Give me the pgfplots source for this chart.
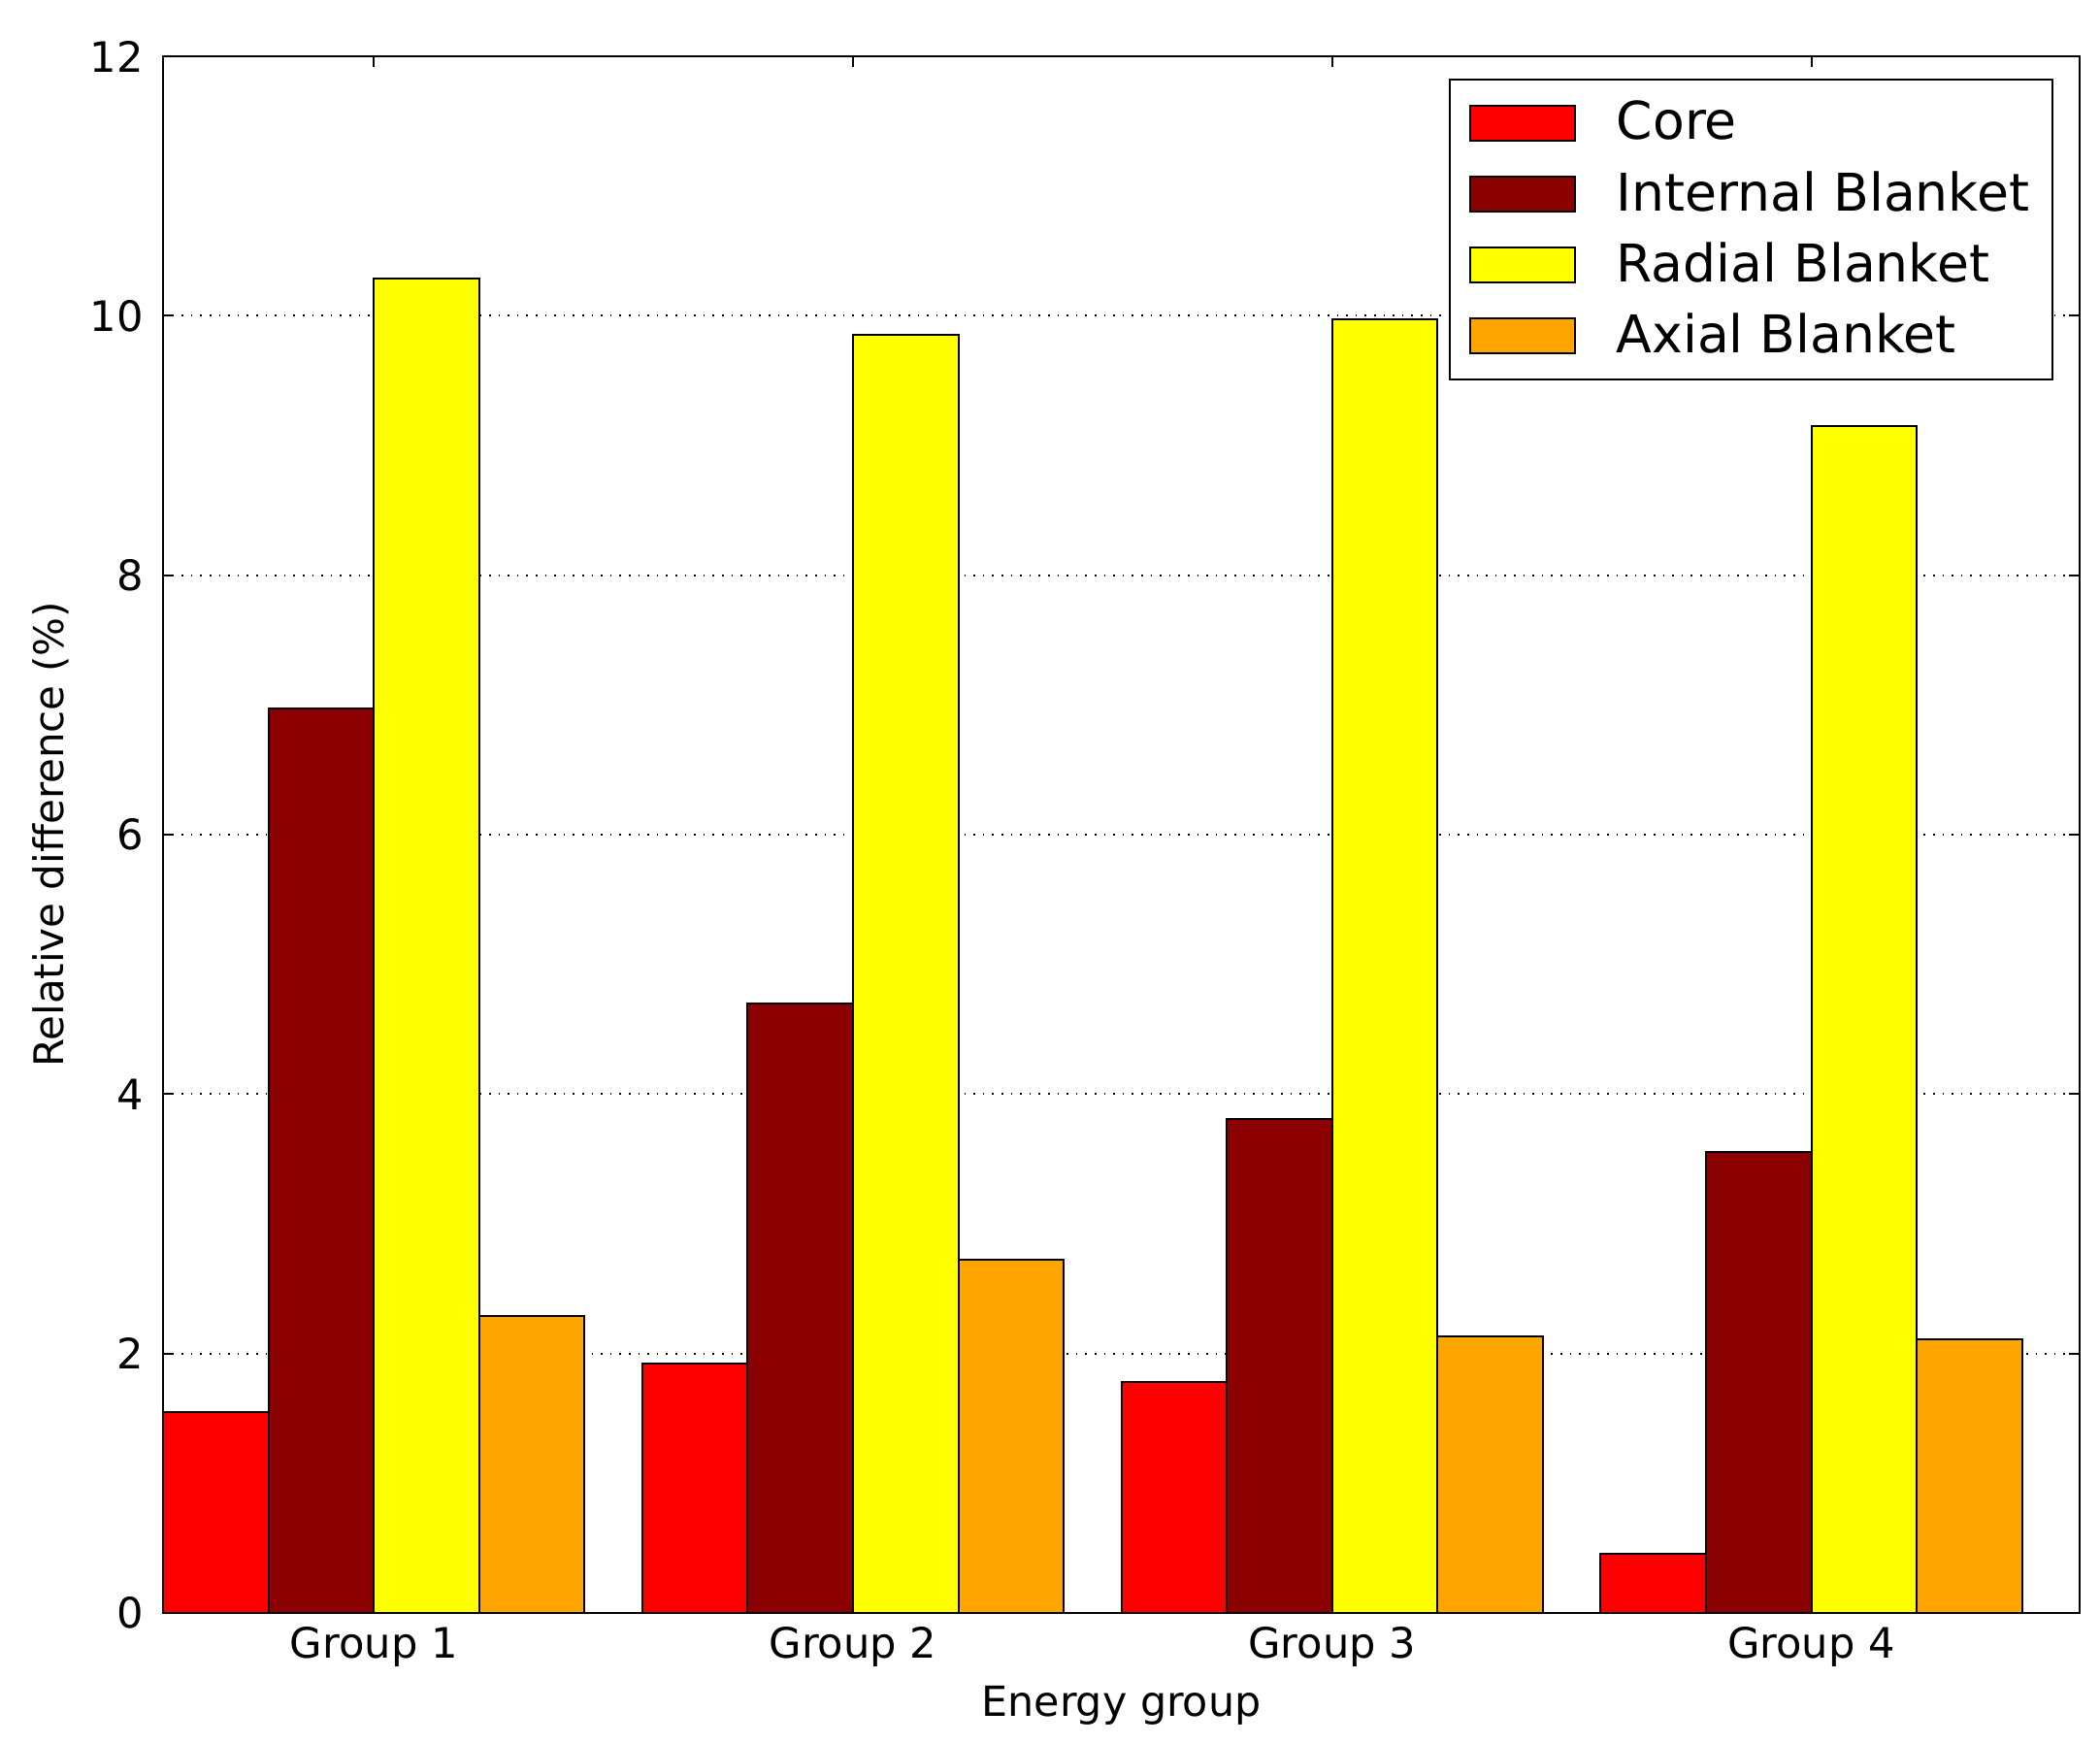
\documentclass[border=0pt]{standalone}
\usepackage{fontspec}
\setmainfont{DejaVu Sans}
\usepackage{pgfplots}
\pgfplotsset{compat=1.18}
\definecolor{cCore}{RGB}{255,0,0}
\definecolor{cInt}{RGB}{139,0,0}
\definecolor{cRad}{RGB}{255,255,0}
\definecolor{cAx}{RGB}{255,165,0}
\pgfplotsset{
  mybar/.style={ybar, bar width=0.22, bar shift=0pt, draw=black, line width=0.5pt,
    legend image code/.code={\draw[##1] (0pt,-4.5pt) rectangle (27pt,4.5pt);}}
}
\begin{document}
\begin{tikzpicture}
\begin{axis}[
  at={(0,0)}, anchor=south west,
  scale only axis, width=493.75pt, height=401pt,
  xmin=0, xmax=4, ymin=0, ymax=12,
  ytick={0,2,4,6,8,10,12},
  xtick={0.44,1.44,2.44,3.44},
  xticklabels={Group 1,Group 2,Group 3,Group 4},
  tick align=inside, major tick length=2.75pt,
  tick style={black, line width=0.5pt},
  axis line style={line width=0.5pt},
  ymajorgrids, grid style={black, dotted, line width=0.5pt},
  /pgf/number format/assume math mode=true,
  ticklabel style={font=\fontsize{10.8}{13}\selectfont},
  yticklabel style={xshift=-1.5pt},
  every axis x label/.style={at={(axis description cs:0.5,-0.0592)}, anchor=center, font=\fontsize{10.7}{13}\selectfont},
  every axis y label/.style={at={(axis description cs:-0.0587,0.5)}, rotate=90, anchor=center, font=\fontsize{10.5}{13}\selectfont},
  xlabel={Energy group}, ylabel={Relative difference (\%)},
  legend style={at={(1,1)}, anchor=north east, xshift=-6.75pt, yshift=-5.8pt,
    draw=black, line width=0.5pt, font=\fontsize{13.4}{16}\selectfont,
    cells={anchor=west}, nodes={inner sep=1pt}, inner xsep=5pt, inner ysep=4.5pt, row sep=4.6pt,
    /tikz/every odd column/.append style={column sep=9.4pt}},
]
\addplot[mybar, fill=cCore] coordinates {(0.11,1.55) (1.11,1.92) (2.11,1.78) (3.11,0.46)};
\addplot[mybar, fill=cInt] coordinates {(0.33,6.97) (1.33,4.70) (2.33,3.81) (3.33,3.55)};
\addplot[mybar, fill=cRad] coordinates {(0.55,10.29) (1.55,9.85) (2.55,9.97) (3.55,9.15)};
\addplot[mybar, fill=cAx] coordinates {(0.77,2.29) (1.77,2.72) (2.77,2.13) (3.77,2.11)};
\legend{Core, Internal Blanket, Radial Blanket, Axial Blanket}
\end{axis}
\pgfresetboundingbox
\path[use as bounding box] (-42pt,-33.75pt) rectangle (499pt,415.5pt);
\end{tikzpicture}
\end{document}
